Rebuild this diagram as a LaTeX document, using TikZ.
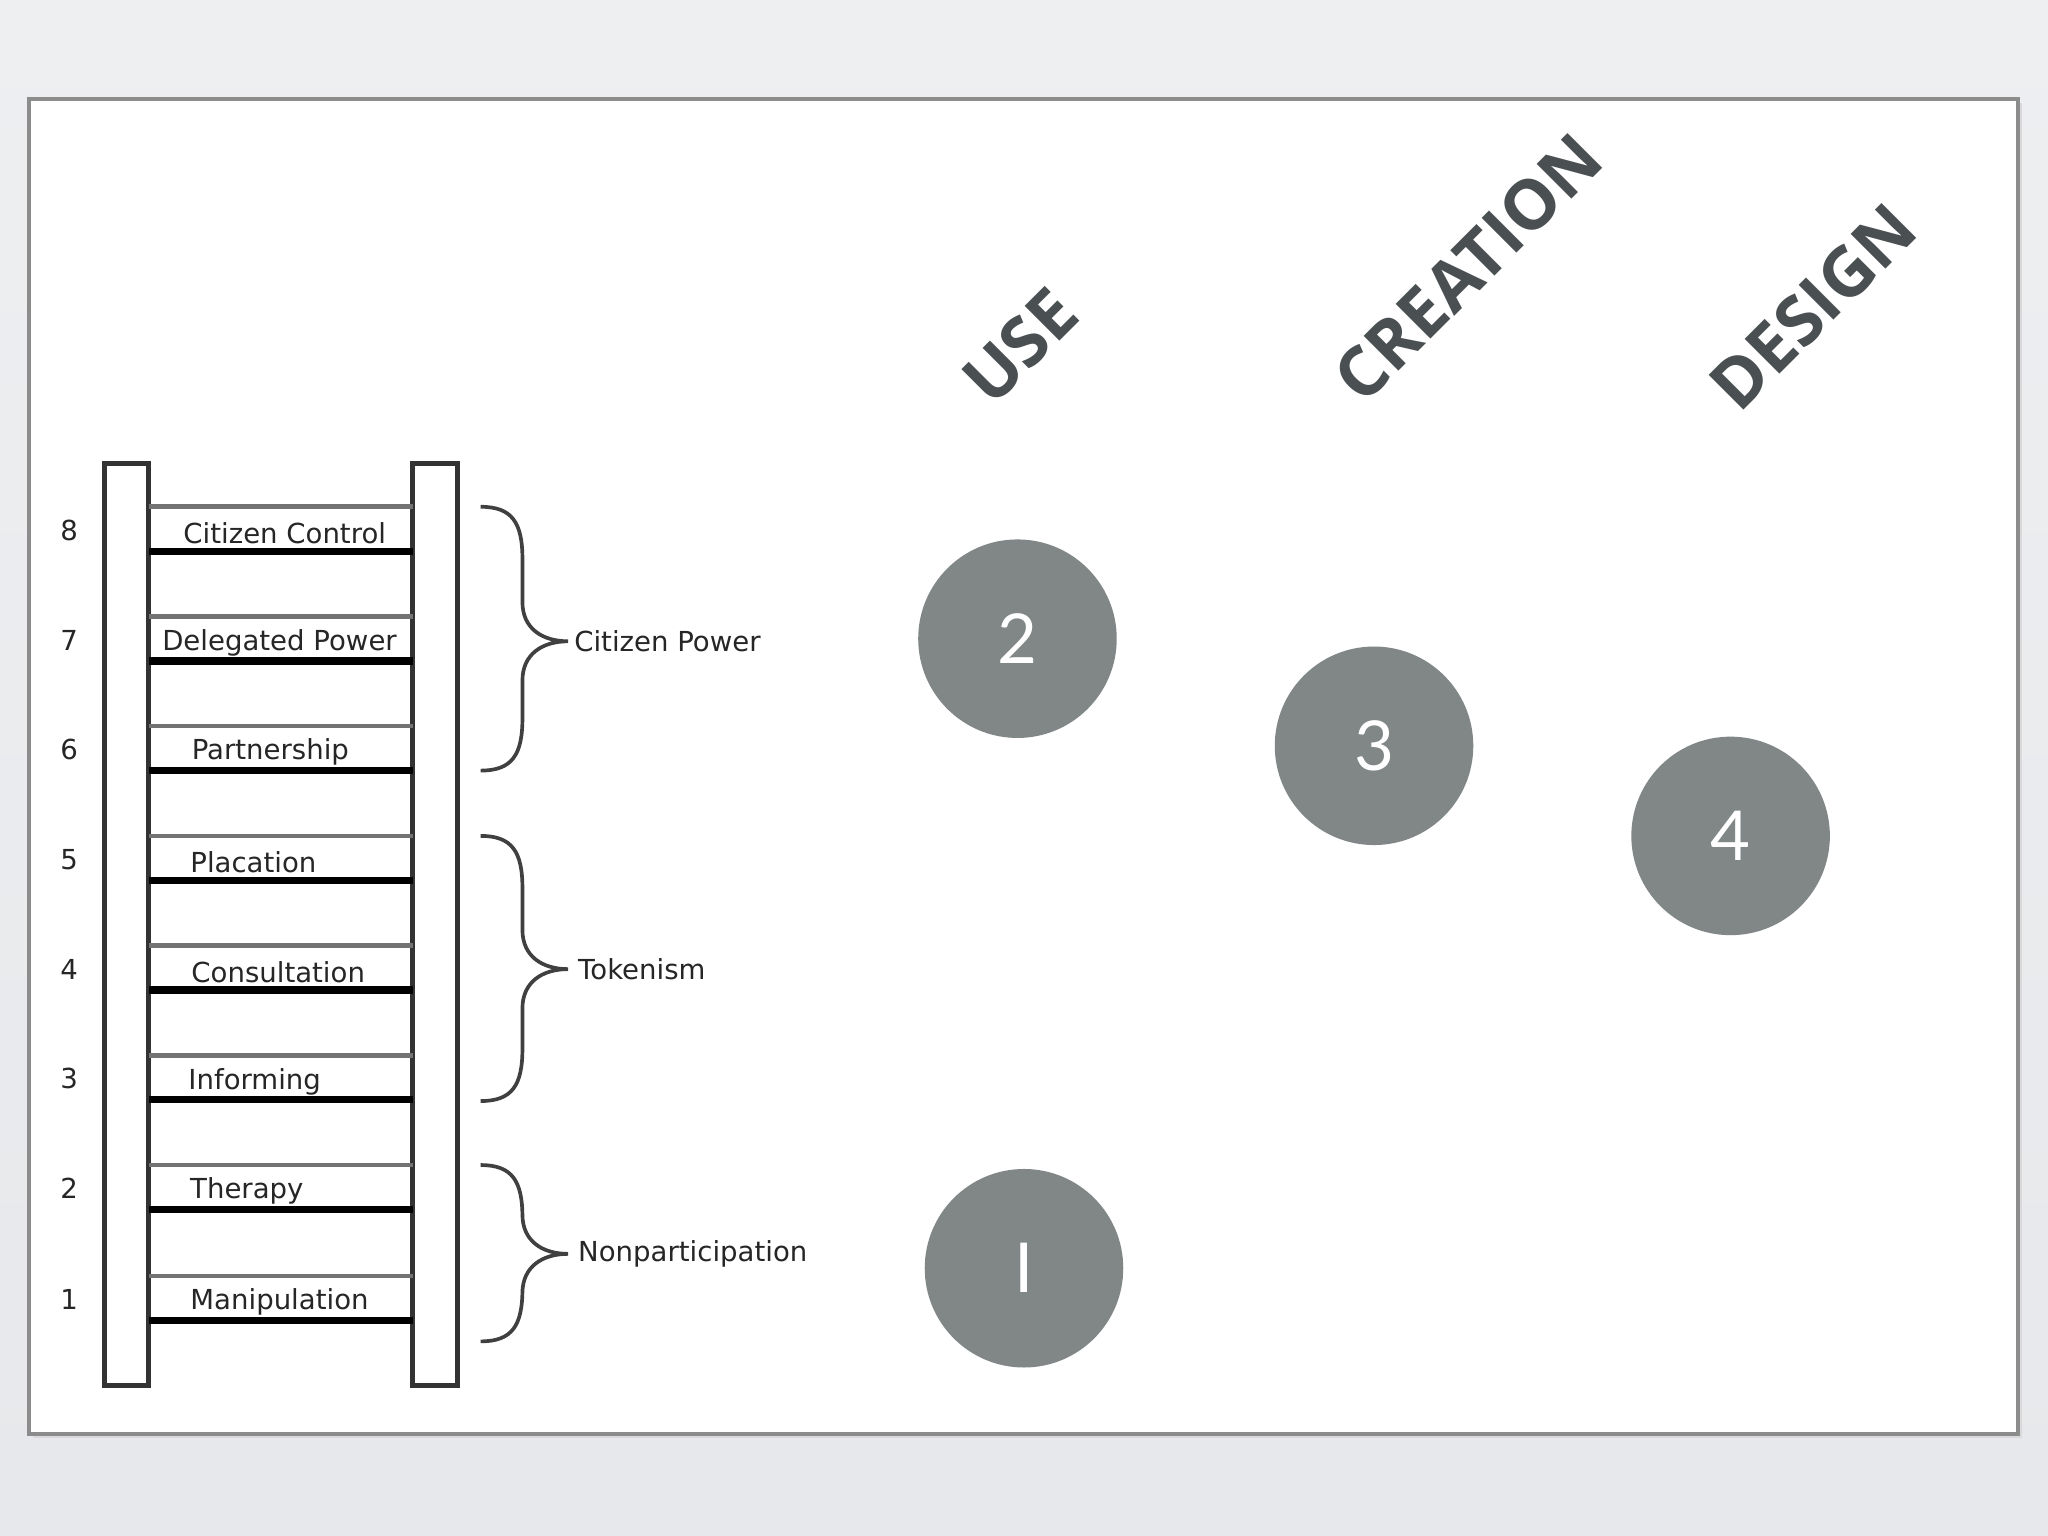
\documentclass[tikz,border=0pt]{standalone}
\usepackage{fontspec}
\setmainfont{DejaVu Sans}
\newfontfamily\titlefont{Open Sans}
\newfontfamily\numfont{Lato}
\definecolor{bgc}{HTML}{E6E8EB}
\definecolor{circ}{HTML}{818787}
\definecolor{ttl}{HTML}{4A4F52}
\newcommand\mybrace[3]{\draw[brc] (368,#1) .. controls (392,#1) and (400,{#1+12}) .. (400,{#1+40}) -- (400,{#2-30}) .. controls (400,{#2-10}) and (415,#2) .. (435,#2) .. controls (415,#2) and (400,{#2+10}) .. (400,{#2+30}) -- (400,{#3-40}) .. controls (400,{#3-12}) and (392,#3) .. (368,#3);}
\begin{document}
\begin{tikzpicture}[x=0.01cm,y=-0.01cm,
  rail/.style={draw=black!80,line width=1.1pt,fill=white},
  thin/.style={draw=black!55,line width=1pt},
  thick/.style={draw=black,line width=1.6pt},
  lab/.style={font=\fontsize{6}{7}\selectfont,text=black!85},
  brc/.style={draw=black!75,line width=0.8pt},
  num/.style={text=white,font=\numfont\fontsize{15}{18}\selectfont},
  ttlt/.style={rotate=45,text=ttl,font=\titlefont\bfseries\fontsize{15}{18}\selectfont}]
\useasboundingbox (0,0) rectangle (1568,1176);
\shade[top color=bgc!70,bottom color=bgc] (0,0) rectangle (1568,1176);
\fill[black!15] (25,79) rectangle (1548,1101);
\draw[fill=white,draw=black!45,line width=0.8pt] (22,76) rectangle (1545,1098);
% ladder
\draw[rail] (80,355) rectangle (114,1061);
\draw[rail] (316,355) rectangle (350,1061);
\foreach \t/\n/\txt/\nx in {388/8/Citizen Control/218,472/7/Delegated Power/214,556/6/Partnership/207,640/5/Placation/194,724/4/Consultation/213,808/3/Informing/195,892/2/Therapy/189,977/1/Manipulation/214}{
  \draw[thin] (114,\t) -- (316,\t);
  \draw[thick] (114,\t+34) -- (316,\t+34);
  \node[lab] (r\n) at (\nx,\t+20) {\txt};
  \node[lab] (n\n) at (53,\t+18) {\n};
}
\mybrace{388}{491}{590}
\mybrace{640}{742}{843}
\mybrace{892}{960}{1027}
\node[lab,anchor=west,inner sep=0pt] (cp) at (439,491) {Citizen Power};
\node[lab,anchor=west,inner sep=0pt] (tk) at (442,742) {Tokenism};
\node[lab,anchor=west,inner sep=0pt] (np) at (442,960) {Nonparticipation};
% titles
\node[ttlt] (use) at (781,265) {USE};
\node[ttlt] (cre) at (1124,205) {CREATION};
\node[ttlt] (des) at (1388,235) {DESIGN};
% circles
\fill[circ] (779,489) circle (76); \node[num] (c2) at (779,489) {2};
\fill[circ] (1052,571) circle (76); \node[num] (c3) at (1052,571) {3};
\fill[circ] (1325,640) circle (76); \node[num] (c4) at (1325,640) {4};
\fill[circ] (784,971) circle (76); \node[num] (c1) at (784,971) {I};
\end{tikzpicture}
\end{document}
